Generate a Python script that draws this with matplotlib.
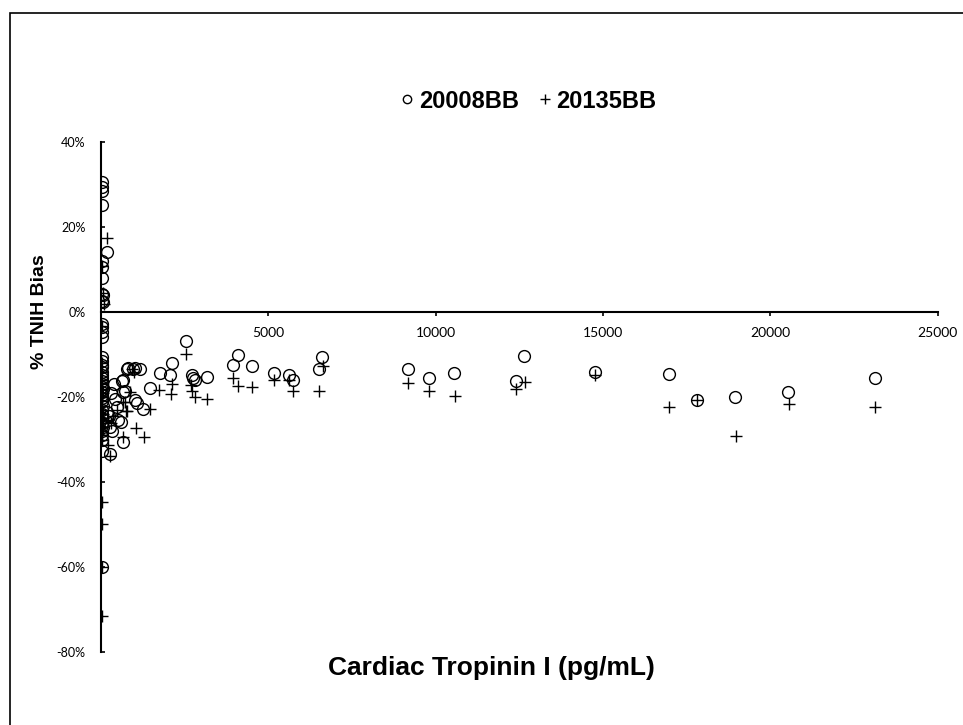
import matplotlib
matplotlib.use("Agg")
import matplotlib.pyplot as plt
from matplotlib.lines import Line2D
from matplotlib.patches import Rectangle
from matplotlib.ticker import FuncFormatter

# 20008BB (circles): concentration pg/mL, % bias
circ_x = [30, 30, 30, 30, 169, 30, 30, 30, 40, 60, 20, 60,
          20, 20, 20, 20,
          20, 30, 20, 40, 20, 30, 20, 40, 20, 30, 50, 20, 40, 30, 20, 50,
          20, 40, 20, 30, 60, 20, 40, 20, 20, 269, 30,
          766, 966, 1016, 817, 617, 667, 717, 667, 1016, 1066, 1265, 607,
          667, 418, 468, 269, 319, 518, 169, 1165, 300, 400, 250,
          2540, 4085, 3936, 4503, 2112, 1763, 2062, 2710, 2760, 2809, 3158,
          1464, 5170, 5628, 5748, 6505, 6610,
          9172, 9812, 10547, 12642, 12400, 14770, 16970, 17818, 18951, 20544, 23120]
circ_y = [30.5, 29.4, 28.4, 25.1, 14.1, 12.0, 10.5, 8.0, 4.3, 4.1, 2.5, 2.3,
          -2.8, -3.6, -4.7, -5.9,
          -10.5, -11.5, -12.5, -13, -14, -14.8, -15.5, -16.2, -17, -17.6, -18.2, -18.8, -19.5, -20.2, -21, -22,
          -23, -24, -25, -26, -27, -28, -29, -30, -32.6, -33.4, -60,
          -13.4, -13.4, -13.1, -13.2, -16.3, -15.9, -18.5, -18.9, -20.8, -21.5, -22.8, -25.9,
          -30.6, -20.4, -22.4, -27.1, -27.9, -25.5, -23.6, -13.3, -19, -17, -24.5,
          -6.9, -10.1, -12.4, -12.7, -12.0, -14.3, -14.8, -14.9, -15.5, -16.1, -15.2,
          -17.9, -14.3, -14.8, -15.9, -13.5, -10.5,
          -13.4, -15.5, -14.3, -10.3, -16.2, -14.0, -14.6, -20.8, -20.0, -18.9, -15.6]

# 20135BB (plus signs)
plus_x = [169, 30, 50, 100, 20,
          20, 30, 20, 40, 20, 50, 30, 20, 40, 20, 60, 30, 20, 50, 70, 20, 40, 20,
          219, 269, 219, 20, 20, 40, 30,
          1046, 1285, 667, 747, 667, 766, 717, 866, 918, 1000, 469, 369, 300,
          2540, 2112, 2082, 1743, 2690, 2710, 2809, 3158, 3936, 4085, 4503,
          5170, 5618, 5748, 6505, 6620, 1464,
          9172, 9812, 10568, 12665, 12400, 14770, 16970, 17818, 18963, 20565, 23120]
plus_y = [17.5, 10.9, 4.4, 1.9, -3.2,
          -12, -14, -16, -17, -18, -19, -20, -21, -22, -23, -24, -25, -26, -27, -27.1, -28, -29, -30,
          -31.4, -33.8, -25.5, -44.8, -49.8, -60, -71.6,
          -27.2, -29.3, -29.5, -23.4, -21.1, -23.2, -21.2, -18.9, -13.5, -14, -23, -24.5, -26,
          -9.8, -16.9, -19.3, -18.3, -17.1, -18.5, -19.9, -20.4, -15.5, -17.5, -17.7,
          -16.1, -16.1, -18.7, -18.5, -12.7, -22.9,
          -16.7, -18.6, -19.8, -16.4, -18.2, -14.9, -22.4, -20.8, -29.2, -21.6, -22.4]

x_ticks = [5000, 10000, 15000, 20000, 25000]
y_ticks = [-80, -60, -40, -20, 0, 20, 40]
series_names = ["20008BB", "20135BB"]

W, H = 963, 725
fig = plt.figure(figsize=(W / 100, H / 100), dpi=100)
ax = fig.add_axes([101 / W, 1 - 652 / H, 836.5 / W, 510 / H])

ax.plot(circ_x, circ_y, "o", mfc="none", mec="black", ms=8.5, mew=1.0, ls="none")
ax.plot(plus_x, plus_y, "+", color="black", ms=8.5, mew=1.0, ls="none")

ax.set_xlim(0, 25000)
ax.set_ylim(-80, 40)
ax.spines["top"].set_visible(False)
ax.spines["right"].set_visible(False)
ax.spines["left"].set_position(("data", 0))
ax.spines["bottom"].set_position(("data", 0))
ax.spines["left"].set_linewidth(1.5)
ax.spines["bottom"].set_linewidth(1.5)

ax.set_xticks(x_ticks)
ax.set_yticks(y_ticks)
ax.yaxis.set_major_formatter(FuncFormatter(lambda v, p: f"{v:.0f}%"))
ax.tick_params(axis="y", direction="in", length=3, width=1.2, pad=11,
               labelsize=9, labelfontfamily="Lato")
ax.tick_params(axis="x", direction="out", length=3, width=1.2, pad=8,
               labelsize=10, labelfontfamily="Lato")

fig.text(40 / W, 1 - 312 / H, "% TNIH Bias", rotation=90, ha="center", va="center",
         fontsize=14, fontweight="bold", family="Liberation Sans")
fig.text(491 / W, 1 - 668 / H, "Cardiac Tropinin I (pg/mL)", ha="center", va="center",
         fontsize=19, fontweight="bold", family="Liberation Sans")

handles = [Line2D([], [], marker="o", mfc="none", mec="black", ms=6, mew=1, ls="none"),
           Line2D([], [], marker="+", color="black", ms=7, mew=1, ls="none")]
fig.legend(handles, series_names, loc="center", bbox_to_anchor=(527 / W, 1 - 101 / H),
           ncol=2, frameon=False, handletextpad=0.1, columnspacing=0.7, handlelength=0.8,
           prop={"family": "Liberation Sans", "weight": "bold", "size": 17})

fig.patches.append(Rectangle((10 / W, -0.05), 1.2, 1.05 - 13 / H, transform=fig.transFigure,
                             fill=False, edgecolor="black", linewidth=1.2))

fig.savefig("out.png", dpi=100)
